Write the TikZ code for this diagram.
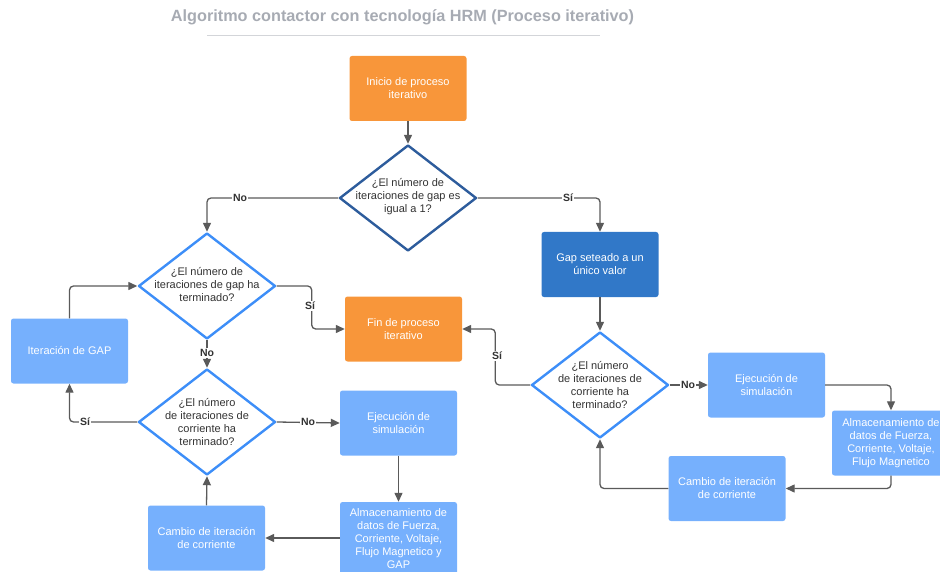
\documentclass[tikz,border=0pt]{standalone}
\usepackage{fontspec}
\setmainfont{Liberation Sans}
\usetikzlibrary{shapes.geometric,arrows.meta}
\definecolor{orng}{HTML}{F8963A}
\definecolor{dblue}{HTML}{3178C8}
\definecolor{lblue}{HTML}{76B0FD}
\definecolor{dstroke}{HTML}{2D5C9C}
\definecolor{lstroke}{HTML}{3D8EF8}
\definecolor{lineg}{HTML}{5A5A5A}
\definecolor{txtg}{HTML}{333333}
\definecolor{titleg}{HTML}{A7ABB3}
\tikzset{
  box/.style={rectangle, rounded corners=2.5pt, minimum width=117pt, minimum height=65pt,
    inner sep=0pt, align=center, text=white, font=\fontsize{11}{13}\selectfont},
  obox/.style={box, fill=orng},
  dbox/.style={box, fill=dblue},
  bbox/.style={box, fill=lblue},
  dia/.style={diamond, minimum width=137pt, minimum height=106pt, inner sep=0pt, fill=white, line width=2.4pt, line join=round},
  ddia/.style={dia, draw=dstroke},
  ldia/.style={dia, draw=lstroke},
  dtext/.style={align=center, text=txtg, font=\fontsize{11}{13}\selectfont},
  conn/.style={draw=lineg, line width=1.3pt, rounded corners=4pt, -{Triangle[length=9pt,width=8pt]}},
  lbl/.style={fill=white, inner sep=1pt, text=txtg, font=\bfseries\fontsize{10.5}{12}\selectfont},
}
\begin{document}
\begin{tikzpicture}[x=1pt,y=-1pt]
\useasboundingbox (0,0) rectangle (940,572);
% title
\node[text=titleg, font=\bfseries\fontsize{16.25}{19}\selectfont] (title) at (402.5,17) {Algoritmo contactor con tecnología HRM (Proceso iterativo)};
\draw[draw=titleg!50, line width=1pt] (207,36) -- (600,36);

% nodes
\node[obox] (inicio) at (408,88.5) {Inicio de proceso\\iterativo};
\node[ddia] (d1) at (408,198) {};
\node[dtext] (d1t) at (408,197) {¿El número de\\iteraciones de gap es\\igual a 1?};
\node[dbox] (gap) at (600,264.5) {Gap seteado a un\\único valor};
\node[obox] (fin) at (403.5,329) {Fin de proceso\\iterativo};
\node[ldia] (d2) at (207,286) {};
\node[dtext] (d2t) at (207,285) {¿El número de\\iteraciones de gap ha\\terminado?};
\node[ldia] (d3) at (600,385) {};
\node[dtext] (d3t) at (600,385) {¿El número\\de iteraciones de\\corriente ha\\terminado?};
\node[ldia] (d4) at (207,422) {};
\node[dtext] (d4t) at (207,422) {¿El número\\de iteraciones de\\corriente ha\\terminado?};
\node[bbox] (itgap) at (69.5,351) {Iteración de GAP};
\node[bbox] (ejl) at (398.5,423) {Ejecución de\\simulación};
\node[bbox, minimum height=74pt] (alml) at (398.5,539) {Almacenamiento de\\datos de Fuerza,\\Corriente, Voltaje,\\Flujo Magnetico y\\GAP};
\node[bbox] (caml) at (206.5,538) {Cambio de iteración\\de corriente};
\node[bbox] (ejr) at (766.5,385) {Ejecución de\\simulación};
\node[bbox, minimum width=118pt] (almr) at (891,443) {Almacenamiento de\\datos de Fuerza,\\Corriente, Voltaje,\\Flujo Magnetico};
\node[bbox] (camr) at (727,488.5) {Cambio de iteración\\de corriente};

% connectors
\draw[conn] (inicio.south) -- (d1.north);
\draw[conn] (d1.west) -| (d2.north);
\draw[conn] (d1.east) -| (gap.north);
\draw[conn] (gap.south) -- (d3.north);
\draw[conn] (d2.east) -- ++(35,0) |- (fin.west);
\draw[conn] (d3.west) -- ++(-35,0) |- (fin.east);
\draw[conn] (d2.south) -- (d4.north);
\draw[conn] (d4.west) -| (itgap.south);
\draw[conn] (itgap.north) |- (d2.west);
\draw[conn] (d4.east) -- (ejl.west);
\draw[conn] (ejl.south) -- (alml.north);
\draw[conn] (alml.west |- caml.east) -- (caml.east);
\draw[conn] (caml.north) -- (d4.south);
\draw[conn] (d3.east) -- (ejr.west);
\draw[conn] (ejr.east) -| (almr.north);
\draw[conn] (almr.south) |- (camr.east);
\draw[conn] (camr.west) -| (d3.south);

% labels
\node[lbl] (l1) at (240,198) {No};
\node[lbl] (l2) at (568,198) {Sí};
\node[lbl] (l3) at (310,306) {Sí};
\node[lbl] (l4) at (497,356) {Sí};
\node[lbl] (l5) at (207,353) {No};
\node[lbl] (l6) at (85,422) {Sí};
\node[lbl] (l7) at (308,422) {No};
\node[lbl] (l8) at (688,385) {No};
\end{tikzpicture}
\end{document}
